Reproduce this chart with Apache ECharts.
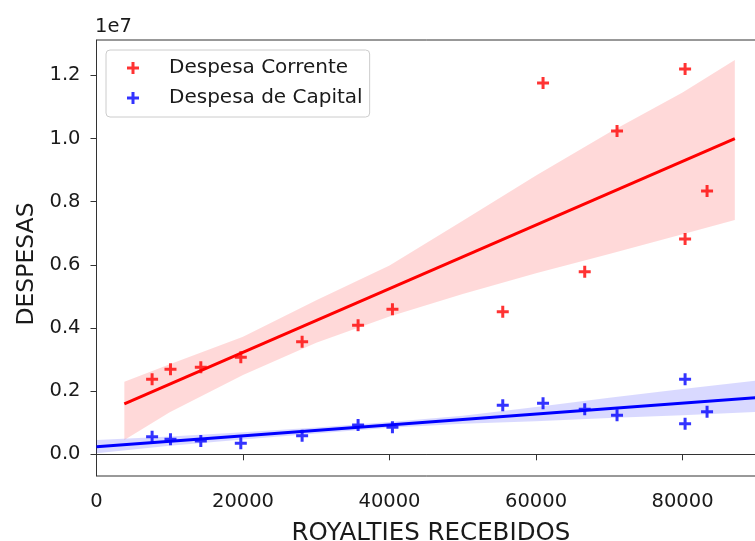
<!DOCTYPE html>
<html>
<head>
<meta charset="utf-8">
<script src="https://cdn.jsdelivr.net/npm/echarts@6/dist/echarts.min.js"></script>
<style>
  html, body { margin: 0; padding: 0; background: #fff; }
  #chart { width: 755px; height: 541px; }
</style>
</head>
<body>
<div id="chart"></div>
<script>
// royalties received (x) and spending (y) per municipality
var royalties = [7590, 10100, 14240, 19700, 28070, 35710, 40400, 55460, 60960, 66650, 71060, 80350, 80350, 83350];
var despCorrente = [2375000, 2690000, 2755000, 3070000, 3566000, 4090000, 4590000, 4516000, 11760000, 5780000, 10240000, 12200000, 6820000, 8340000];
var despCapital = [557000, 475000, 420000, 350000, 590000, 928000, 855000, 1550000, 1615000, 1425000, 1235000, 2375000, 970000, 1350000];

// regression lines (end points)
var fitCorrenteX = [3800, 87140];
var fitCorrenteY = [1600000, 10000000];
var fitCapitalX = [0, 91300];
var fitCapitalY = [240000, 1815000];

// confidence bands
var bandCorrenteX = [3800, 10000, 20000, 30000, 40000, 50000, 60000, 70000, 80000, 87140];
var bandCorrenteLo = [450000, 1330000, 2510000, 3530000, 4360000, 5080000, 5730000, 6340000, 6970000, 7420000];
var bandCorrenteHi = [2300000, 2850000, 3720000, 4880000, 5980000, 7400000, 8830000, 10190000, 11460000, 12490000];
var bandCapitalX = [0, 10000, 20000, 30000, 40000, 50000, 60000, 70000, 80000, 91300];
var bandCapitalLo = [30000, 270000, 470000, 660000, 840000, 970000, 1050000, 1150000, 1240000, 1350000];
var bandCapitalHi = [450000, 560000, 700000, 850000, 1020000, 1220000, 1500000, 1790000, 2070000, 2370000];

var plus = 'path://M3.75,0H6.25V3.75H10V6.25H6.25V10H3.75V6.25H0V3.75H3.75Z';
var txt = '#1a1a1a';

function band(xs, lo, hi, color) {
    return {
        type: 'custom',
        silent: true,
        z: 1,
        clip: true,
        data: xs.map(function (x, i) { return [x, lo[i], hi[i]]; }),
        encode: { x: 0, y: [1, 2] },
        renderItem: function (params, api) {
            if (params.dataIndex !== 0) return;
            var top = xs.map(function (x, i) { return api.coord([x, hi[i]]); });
            var bot = xs.map(function (x, i) { return api.coord([x, lo[i]]); }).reverse();
            return {
                type: 'polygon',
                shape: { points: top.concat(bot) },
                style: { fill: color }
            };
        }
    };
}

function pairs(xs, ys) {
    return xs.map(function (x, i) { return [x, ys[i]]; });
}

var chart = echarts.init(document.getElementById('chart'));
var option = {
    animation: false,
    title: {
        text: '1e7',
        left: 95,
        top: 17,
        padding: 0,
        textStyle: { fontFamily: 'DejaVu Sans', fontSize: 19.5, fontWeight: 'normal', color: txt }
    },
    legend: {
        orient: 'vertical',
        left: 106,
        top: 50,
        padding: [8, 7, 9, 21],
        itemGap: 10,
        itemWidth: 12,
        itemHeight: 12,
        backgroundColor: 'rgba(255,255,255,0.8)',
        borderColor: '#cccccc',
        borderWidth: 1,
        borderRadius: 4,
        textStyle: { fontFamily: 'DejaVu Sans', fontSize: 20, lineHeight: 20, color: txt, padding: [0, 0, 0, 25] },
        data: [
            { name: 'Despesa Corrente', icon: plus },
            { name: 'Despesa de Capital', icon: plus }
        ]
    },
    grid: {
        left: 96.5,
        top: 40,
        width: 668.8,
        bottom: 65,
        outerBoundsMode: 'none',
        containLabel: false,
        show: true,
        borderColor: '#333',
        borderWidth: 1,
        backgroundColor: 'transparent'
    },
    xAxis: {
        type: 'value',
        min: 0,
        max: 91300,
        interval: 20000,
        splitLine: { show: false },
        axisLine: { show: true, lineStyle: { color: '#333', width: 1 } },
        axisTick: { show: true, length: 6, lineStyle: { color: '#333' } },
        axisLabel: {
            margin: 16,
            fontFamily: 'DejaVu Sans',
            fontSize: 19.5,
            color: txt,
            showMaxLabel: false,
            formatter: function (v) { return String(v); }
        },
        name: 'ROYALTIES RECEBIDOS',
        nameLocation: 'middle',
        nameGap: 45,
        nameTextStyle: { fontFamily: 'DejaVu Sans', fontSize: 24.5, color: txt }
    },
    yAxis: {
        type: 'value',
        min: -687000,
        max: 13120000,
        splitNumber: 7,
        minInterval: 2000000,
        maxInterval: 2000000,
        splitLine: { show: false },
        axisLine: { show: true, lineStyle: { color: '#333', width: 1 } },
        axisTick: { show: true, length: 6, lineStyle: { color: '#333' } },
        axisLabel: {
            margin: 16,
            fontFamily: 'DejaVu Sans',
            fontSize: 19.5,
            color: txt,
            showMinLabel: false,
            showMaxLabel: false,
            formatter: function (v) { return (v / 1e7).toFixed(1); }
        },
        name: 'DESPESAS',
        nameLocation: 'middle',
        nameGap: 58,
        nameTextStyle: { fontFamily: 'DejaVu Sans', fontSize: 23.5, color: txt, padding: [0, 12, 0, 0] }
    },
    series: [
        band(bandCorrenteX, bandCorrenteLo, bandCorrenteHi, 'rgba(255,0,0,0.15)'),
        band(bandCapitalX, bandCapitalLo, bandCapitalHi, 'rgba(0,0,255,0.15)'),
        {
            name: 'Despesa Corrente',
            type: 'scatter',
            z: 2,
            symbol: plus,
            symbolSize: 12,
            itemStyle: { color: '#ff0000', opacity: 0.8 },
            data: pairs(royalties, despCorrente)
        },
        {
            name: 'Despesa de Capital',
            type: 'scatter',
            z: 2,
            symbol: plus,
            symbolSize: 12,
            itemStyle: { color: '#0000ff', opacity: 0.8 },
            data: pairs(royalties, despCapital)
        },
        {
            type: 'line',
            z: 3,
            showSymbol: false,
            silent: true,
            lineStyle: { color: '#ff0000', width: 3 },
            data: pairs(fitCorrenteX, fitCorrenteY)
        },
        {
            type: 'line',
            z: 3,
            showSymbol: false,
            silent: true,
            lineStyle: { color: '#0000ff', width: 3 },
            data: pairs(fitCapitalX, fitCapitalY)
        }
    ]
};
chart.setOption(option);
</script>
</body>
</html>
